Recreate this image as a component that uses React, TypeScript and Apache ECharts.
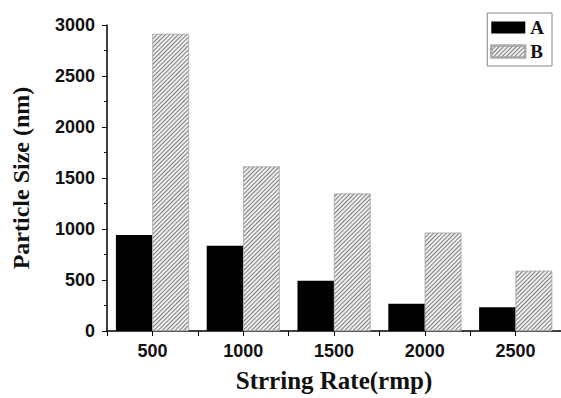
import React, { useEffect, useRef } from "react";
import * as echarts from "echarts";

const categories = ["500", "1000", "1500", "2000", "2500"];
const seriesA = [940, 835, 493, 266, 234];
const seriesB = [2912, 1613, 1347, 964, 590];
const yTicks = { min: 0, max: 3000, interval: 500 };

export default function App() {
  const ref = useRef<HTMLDivElement>(null);
  useEffect(() => {
    if (!ref.current) return;
    const chart = echarts.init(ref.current, undefined, { renderer: "svg" });
    const sansBold = { fontFamily: "Liberation Sans, Arial, sans-serif", fontWeight: "bold" as const, color: "#111", fontSize: 18 };
    const serifBold = { fontFamily: "Liberation Serif, Times New Roman, serif", fontWeight: "bold" as const, color: "#111" };
    chart.setOption({
      animation: false,
      backgroundColor: "#fff",
      grid: { left: 107, right: 0, top: 25, bottom: 65, containLabel: false },
      legend: {
        orient: "vertical",
        right: 9,
        top: 13,
        padding: [5, 8, 5, 3],
        itemWidth: 34,
        itemHeight: 12,
        itemGap: 5,
        borderColor: "#888",
        borderWidth: 1,
        icon: "rect",
        textStyle: { ...serifBold, fontSize: 19 },
        data: ["A", "B"],
      },
      xAxis: [
        {
          type: "category",
          data: categories,
          name: "Strring Rate(rmp)",
          nameLocation: "middle",
          nameGap: 37,
          nameTextStyle: { ...serifBold, fontSize: 25, verticalAlign: "top" },
          axisLine: { lineStyle: { color: "#000", width: 1.5 } },
          axisTick: { show: true, length: 5, inside: false, lineStyle: { color: "#000" } },
          axisLabel: { ...sansBold, margin: 11 },
          splitLine: { show: false },
        },
        {
          type: "category",
          data: categories,
          position: "bottom",
          axisLine: { show: false },
          axisTick: { show: true, alignWithLabel: true, length: 5, lineStyle: { color: "#000" } },
          axisLabel: { show: false },
          splitLine: { show: false },
        },
      ],
      yAxis: {
        type: "value",
        min: yTicks.min,
        max: yTicks.max,
        interval: yTicks.interval,
        name: "Particle Size (nm)",
        nameLocation: "middle",
        nameGap: 74,
        nameTextStyle: { ...serifBold, fontSize: 24 },
        axisLine: { show: true, lineStyle: { color: "#000", width: 1.5 } },
        axisTick: { show: true, length: 5, lineStyle: { color: "#000" } },
        minorTick: { show: true, splitNumber: 2, length: 3, lineStyle: { color: "#000" } },
        axisLabel: { ...sansBold, margin: 12, formatter: (v: number) => String(v) },
        splitLine: { show: false },
      },
      series: [
        {
          name: "A",
          type: "bar",
          xAxisIndex: 0,
          data: seriesA,
          barWidth: 36.5,
          barGap: "0%",
          itemStyle: { color: "#000" },
        },
        {
          name: "B",
          type: "bar",
          xAxisIndex: 0,
          data: seriesB,
          barWidth: 36.5,
          barGap: "0%",
          itemStyle: {
            color: "#eeeeee",
            borderColor: "#aaa",
            borderWidth: 0.5,
            decal: {
              symbol: "rect",
              symbolSize: 1,
              dashArrayX: [1, 0],
              dashArrayY: [1, 2],
              rotation: -Math.PI / 4,
              color: "#808080",
            },
          },
        },
      ],
    });
    return () => chart.dispose();
  }, []);
  return <div ref={ref} style={{ width: 561, height: 398, position: "absolute", left: 0, top: 0 }} />;
}
